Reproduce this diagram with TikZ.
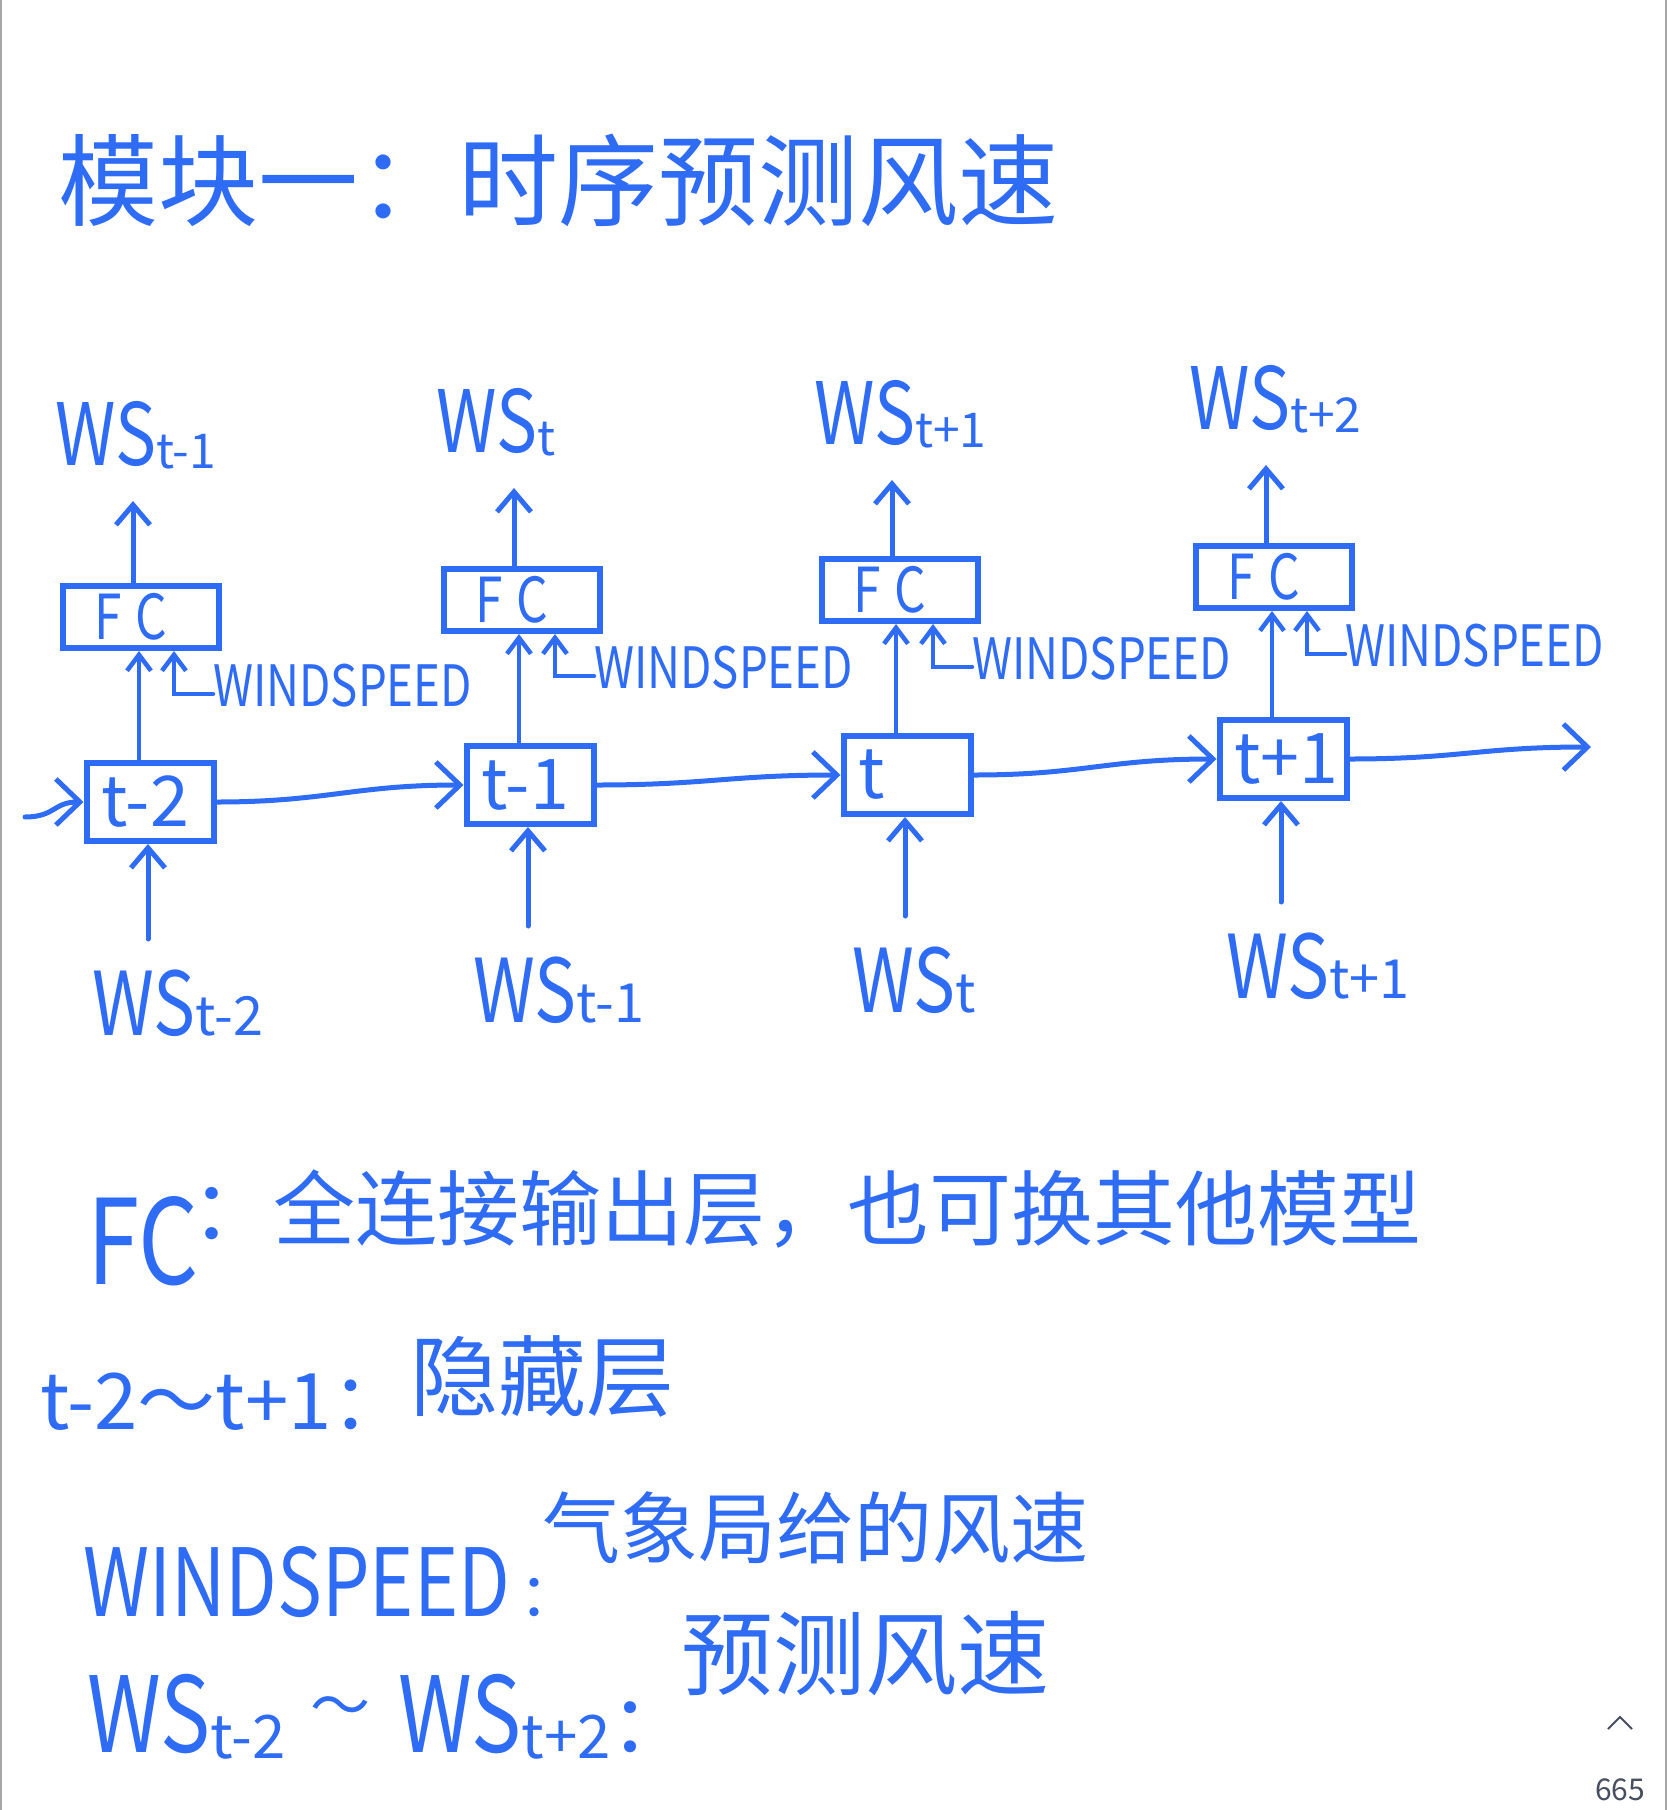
\documentclass[tikz,border=0pt]{standalone}
\usepackage{fontspec}
\setmainfont{Noto Sans CJK SC}
\usepackage{graphicx}
\usetikzlibrary{arrows.meta}
\definecolor{ink}{RGB}{46,108,246}
\definecolor{uigray}{RGB}{70,78,96}
\newcommand\fsz[1]{\fontsize{#1pt}{#1pt}\selectfont}
\newcommand\narrow[1]{\scalebox{0.8}[1]{#1}}
\newcommand\wslab[4]{\fsz{#1}\narrow{WS}\raisebox{#4}{\fsz{#2}#3}}
\begin{document}
\begin{tikzpicture}[x=1pt,y=-1pt,color=ink,
  cell/.style={draw,line width=6pt,minimum height=78pt,text width=97pt,inner xsep=15pt,inner ysep=0pt,align=left,font=\fsz{70}},
  fcbox/.style={draw,line width=6pt,minimum height=62pt,text width=130pt,inner xsep=13pt,inner ysep=0pt,align=left,font=\fsz{62}},
  lab/.style={inner sep=0pt,anchor=base west},
  wsp/.style={inner sep=0pt,anchor=west,font=\fsz{57}},
  flow/.style={line width=5pt,line cap=round,-{Straight Barb[length=24pt,width=46pt]}},
  uparr/.style={line width=5pt,line cap=round,-{Straight Barb[length=20pt,width=34pt]}},
  smallarr/.style={line width=4.5pt,line cap=round,-{Straight Barb[length=16pt,width=24pt]}},
]
\useasboundingbox (0,0) rectangle (1668,1810);
\fill[white] (0,0) rectangle (1668,1810);
\draw[gray!70,line width=1.5pt] (0.75,0) -- (0.75,1810);
\draw[gray!70,line width=1.5pt] (1666,0) -- (1666,1810);

% title
\node[lab,font=\fsz{100}] (title) at (58,218) {模块一：时序预测风速};

% hidden cells
\node[cell] (c1) at (150,802) {t-2};
\node[cell] (c2) at (530,785) {t-1};
\node[cell] (c3) at (907,775) {t};
\node[cell] (c4) at (1283,759) {t+1};

% FC boxes
\node[fcbox] (f1) at (141,617) {\hspace*{18pt}\narrow{F\hspace{18pt}C}};
\node[fcbox] (f2) at (522,600) {\hspace*{18pt}\narrow{F\hspace{18pt}C}};
\node[fcbox] (f3) at (900,590) {\hspace*{18pt}\narrow{F\hspace{18pt}C}};
\node[fcbox] (f4) at (1274,577) {\hspace*{18pt}\narrow{F\hspace{18pt}C}};

% outputs
\node[lab] (o1) at (55,465) {\wslab{86}{48}{t-1}{-3pt}};
\node[lab] (o2) at (436,452) {\wslab{86}{48}{t}{-3pt}};
\node[lab] (o3) at (814,444) {\wslab{86}{48}{t+1}{-3pt}};
\node[lab] (o4) at (1189,429) {\wslab{86}{48}{t+2}{-3pt}};

% inputs
\node[lab] (i1) at (92,1035) {\wslab{88}{54}{t-2}{0pt}};
\node[lab] (i2) at (473,1022) {\wslab{88}{54}{t-1}{0pt}};
\node[lab] (i3) at (852,1012) {\wslab{88}{54}{t}{0pt}};
\node[lab] (i4) at (1226,998) {\wslab{88}{54}{t+1}{0pt}};

% WINDSPEED labels
\node[wsp] (w1) at (213,686) {\narrow{WINDSPEED}};
\node[wsp] (w2) at (594,668) {\narrow{WINDSPEED}};
\node[wsp] (w3) at (972,659) {\narrow{WINDSPEED}};
\node[wsp] (w4) at (1345,646) {\narrow{WINDSPEED}};

% start / end coordinates
\coordinate (s0) at (25,817);
\coordinate (e5) at (1591,747);

% recurrent flow
\draw[flow] (s0) .. controls +(30,0) and +(-30,0) .. (c1.west);
\draw[flow] (c1.east) .. controls +(110,0) and +(-110,0) .. (c2.west);
\draw[flow] (c2.east) .. controls +(110,0) and +(-110,0) .. (c3.west);
\draw[flow] (c3.east) .. controls +(110,0) and +(-110,0) .. (c4.west);
\draw[flow] (c4.east) .. controls +(110,0) and +(-110,0) .. (e5);

% vertical connectors
\foreach \k in {1,2,3,4}{
  \draw[uparr,shorten <=96pt] ([xshift=-2pt]c\k.south |- i\k.base) -- ([xshift=-2pt]c\k.south);
  \draw[uparr,shorten >=36pt] ([xshift=-8pt]f\k.north) -- ([xshift=-8pt]f\k.north |- o\k.base);
  \draw[smallarr] ([xshift=-11pt]c\k.north) -- ([xshift=-11pt]c\k.north |- f\k.south);
  \draw[smallarr] ([yshift=-8pt]w\k.west) -| ([xshift=33pt]f\k.south);
}

% legend
\node[lab,font=\fsz{118}] (l1) at (87,1284) {\narrow{FC}};
\node[lab,font=\fsz{82}] (d1) at (191,1239) {：全连接输出层，也可换其他模型};
\node[lab,font=\fsz{78}] (l2) at (40,1429) {t-2～t+1：};
\node[lab,font=\fsz{88}] (d2) at (410,1409) {隐藏层};
\node[lab,font=\fsz{94}] (l3) at (83,1616) {\narrow{WINDSPEED}\makebox[26pt][l]{\hspace{9pt}\fsz{60}：}};
\node[lab,font=\fsz{78}] (d3) at (542,1557) {气象局给的风速};
\node[lab] (l4) at (87,1752) {\wslab{105}{60}{t-2}{-6pt}\hspace{25pt}\raisebox{25pt}{\fsz{60}～}\hspace{28pt}\wslab{105}{60}{t+2}{-6pt}{\fsz{80}：}};
\node[lab,font=\fsz{92}] (d4) at (681,1688) {预测风速};

% UI corner
\draw[uigray,line width=2pt] (1608,1729) -- (1620,1717) -- (1632,1729);
\node[uigray,font=\fsz{30}] (pg) at (1620,1790) {665};
\end{tikzpicture}
\end{document}
